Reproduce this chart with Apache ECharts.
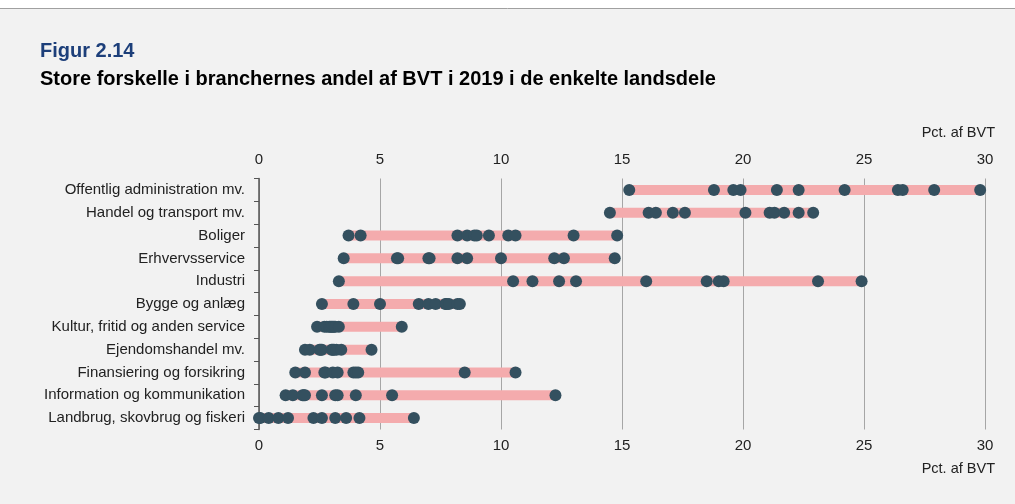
<!DOCTYPE html>
<html>
<head>
<meta charset="utf-8">
<script src="https://cdn.jsdelivr.net/npm/echarts@6/dist/echarts.min.js"></script>
<style>
  html, body { margin: 0; padding: 0; background: #fff; }
  #main { width: 1015px; height: 504px; }
</style>
</head>
<body>
<div id="main"></div>
<script>
// brancher (top -> bund)
var categories = [
  "Offentlig administration mv.",
  "Handel og transport mv.",
  "Boliger",
  "Erhvervsservice",
  "Industri",
  "Bygge og anlæg",
  "Kultur, fritid og anden service",
  "Ejendomshandel mv.",
  "Finansiering og forsikring",
  "Information og kommunikation",
  "Landbrug, skovbrug og fiskeri"
];

// andel af BVT i hver landsdel (pct.)
var offentlig = [15.3, 18.8, 19.6, 19.9, 21.4, 22.3, 24.2, 26.4, 26.6, 27.9, 29.8];
var handel = [14.5, 16.1, 16.4, 17.1, 17.6, 20.1, 21.1, 21.3, 21.7, 22.3, 22.9];
var boliger = [3.7, 4.2, 8.2, 8.6, 8.9, 9.0, 9.5, 10.3, 10.6, 13.0, 14.8];
var erhverv = [3.5, 5.7, 5.75, 7.0, 7.05, 8.2, 8.6, 10.0, 12.2, 12.6, 14.7];
var industri = [3.3, 10.5, 11.3, 12.4, 13.1, 16.0, 18.5, 19.0, 19.2, 23.1, 24.9];
var bygge = [2.6, 3.9, 5.0, 6.6, 7.0, 7.3, 7.7, 7.75, 7.85, 8.2, 8.3];
var kultur = [2.4, 2.7, 2.8, 2.9, 2.95, 3.0, 3.05, 3.1, 3.15, 3.3, 5.9];
var ejendom = [1.9, 2.1, 2.5, 2.55, 2.6, 3.0, 3.05, 3.1, 3.2, 3.4, 4.65];
var finans = [1.5, 1.9, 2.7, 2.75, 3.05, 3.25, 3.9, 4.0, 4.1, 8.5, 10.6];
var information = [1.1, 1.4, 1.8, 1.85, 1.9, 2.6, 3.15, 3.25, 4.0, 5.5, 12.25];
var landbrug = [0.0, 0.05, 0.4, 0.8, 1.2, 2.25, 2.6, 3.15, 3.6, 4.15, 6.4];

var xTicks = [0, 5, 10, 15, 20, 25, 30];

var rows = [offentlig, handel, boliger, erhverv, industri, bygge, kultur, ejendom, finans, information, landbrug];

var lowVals = rows.map(function (r) { return Math.min.apply(null, r); });
var spanVals = rows.map(function (r) { return Math.max.apply(null, r) - Math.min.apply(null, r); });

var dots = [];
rows.forEach(function (r, i) {
  r.forEach(function (v) { dots.push([v, categories[i]]); });
});

var font = "Liberation Sans, Arial, sans-serif";
var chart = echarts.init(document.getElementById("main"));

var option = {
  backgroundColor: "#f2f2f2",
  animation: false,
  textStyle: { fontFamily: font },
  graphic: [
    { type: "rect", shape: { x: 0, y: 0, width: 1015, height: 8 }, style: { fill: "#ffffff" } },
    { type: "line", shape: { x1: 0, y1: 8.5, x2: 1015, y2: 8.5 }, style: { stroke: "#a0a0a0", lineWidth: 1 } },
    {
      type: "text", left: 40, top: 41.5,
      style: { text: "Figur 2.14", fill: "#1d3f7a", font: "bold 20px " + font }
    },
    {
      type: "text", left: 40, top: 69,
      style: { text: "Store forskelle i branchernes andel af BVT i 2019 i de enkelte landsdele", fill: "#000", font: "bold 20px " + font }
    },
    {
      type: "text", right: 20, top: 125.5,
      style: { text: "Pct. af BVT", fill: "#222", font: "14.5px " + font }
    },
    {
      type: "text", right: 20, top: 461.5,
      style: { text: "Pct. af BVT", fill: "#222", font: "14.5px " + font }
    }
  ],
  grid: { left: 259, right: 30, top: 178.5, bottom: 74.5 },
  xAxis: [
    {
      type: "value", position: "top", min: 0, max: 30, interval: 5,
      axisLine: { show: false }, axisTick: { show: false },
      axisLabel: { color: "#222", fontSize: 15, margin: 11 },
      splitLine: { show: true, lineStyle: { color: "#a6a6a6", width: 1 } }
    },
    {
      type: "value", position: "bottom", min: 0, max: 30, interval: 5,
      axisLine: { show: false }, axisTick: { show: false },
      axisLabel: { color: "#222", fontSize: 15, margin: 9 },
      splitLine: { show: false }
    }
  ],
  yAxis: {
    type: "category", data: categories, inverse: true,
    axisLine: { show: true, lineStyle: { color: "#555", width: 1.5 } },
    axisTick: { show: true, length: 5, lineStyle: { color: "#555" } },
    axisLabel: { color: "#222", fontSize: 15, margin: 14 },
    z: 5
  },
  series: [
    {
      type: "bar", stack: "range", data: lowVals, barWidth: 10,
      itemStyle: { color: "transparent" }, silent: true
    },
    {
      type: "bar", stack: "range", data: spanVals, barWidth: 10,
      itemStyle: { color: "#f4abad" }
    },
    {
      type: "scatter", data: dots, symbolSize: 12,
      itemStyle: { color: "#34505f", opacity: 1 }, z: 10
    }
  ]
};

chart.setOption(option);
</script>
</body>
</html>
